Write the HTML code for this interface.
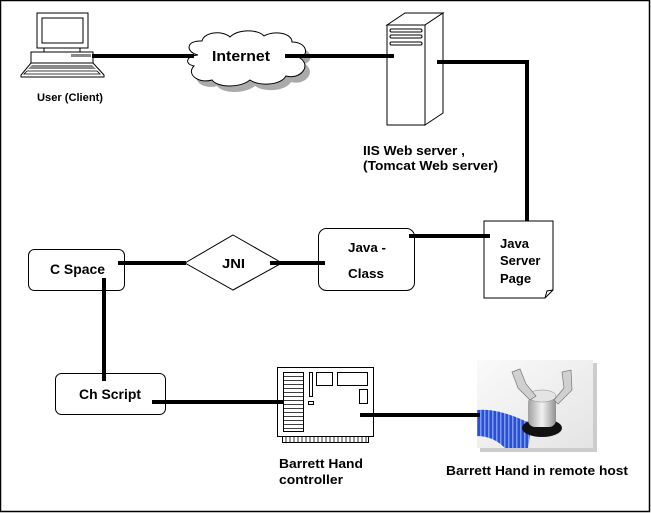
<!DOCTYPE html>
<html><head><meta charset="utf-8"><style>
html,body{margin:0;padding:0;background:#fff}
svg{display:block}
text{font-family:"Liberation Sans",Arial,sans-serif;font-weight:bold;fill:#000}
</style></head><body>
<svg width="651" height="513" viewBox="0 0 651 513" xmlns="http://www.w3.org/2000/svg">
<defs>
<linearGradient id="bg" x1="0" y1="0" x2="1" y2="1"><stop offset="0" stop-color="#fafafa"/><stop offset="1" stop-color="#e4e4e4"/></linearGradient>
<linearGradient id="metal" x1="0" y1="0" x2="1" y2="0"><stop offset="0" stop-color="#a0a0a0"/><stop offset="0.5" stop-color="#f2f2f2"/><stop offset="1" stop-color="#909090"/></linearGradient>
<pattern id="coil" width="4" height="10" patternUnits="userSpaceOnUse"><rect width="4" height="10" fill="#2a4fd0"/><rect width="1.5" height="10" fill="#7a9aff"/></pattern>
</defs>
<rect x="0.5" y="0.5" width="649" height="511" fill="#fff" stroke="#000" stroke-width="1.5"/>

<!-- Computer -->
<g stroke="#000" stroke-width="1" fill="#fff">
<rect x="37" y="13" width="51" height="35"/>
<rect x="42" y="18" width="41" height="25"/>
<rect x="44" y="48" width="36" height="5"/>
<rect x="31" y="52" width="62" height="11"/>
<rect x="71" y="54" width="20" height="3" fill="#888" stroke="none"/>
<path d="M31 63 L93 63 L104 75 L104 77 L21 77 L21 75 Z"/>
<path d="M32 65 L92 65 L96 69 L28 69 Z" fill="#888" stroke="none"/>
<path d="M27 71 L97 71 L100 74 L24 74 Z" fill="#fff" stroke="#000" stroke-width="0.8"/>
</g>
<text x="37" y="101" font-size="11" textLength="66" lengthAdjust="spacingAndGlyphs">User (Client)</text>

<!-- Cloud -->
<path d="M198 55 C185 52 186 40 202 41 C204 32 222 30 230 37 C238 29 258 29 264 36 C274 30 292 33 292 42 C306 42 310 54 300 58 C312 66 300 80 286 76 C280 86 258 86 250 80 C240 88 218 88 212 80 C198 84 186 74 194 66 C184 64 186 56 198 55 Z" fill="#aaa" transform="translate(5,6)"/>
<path d="M198 55 C185 52 186 40 202 41 C204 32 222 30 230 37 C238 29 258 29 264 36 C274 30 292 33 292 42 C306 42 310 54 300 58 C312 66 300 80 286 76 C280 86 258 86 250 80 C240 88 218 88 212 80 C198 84 186 74 194 66 C184 64 186 56 198 55 Z" fill="#fff" stroke="#000" stroke-width="1"/>
<text x="212" y="61" font-size="15" textLength="58" lengthAdjust="spacingAndGlyphs">Internet</text>

<!-- Server -->
<g stroke="#000" stroke-width="1" fill="#fff">
<path d="M387 25 L405 13 L443 13 L425 25 Z"/>
<path d="M425 25 L443 13 L443 113 L425 125 Z"/>
<rect x="387" y="25" width="38" height="100"/>
<rect x="390" y="29" width="32" height="3" rx="1.5"/>
<rect x="390" y="35" width="32" height="3" rx="1.5"/>
<rect x="390" y="42" width="32" height="3" rx="1.5"/>
</g>
<text x="363" y="155" font-size="12.5" textLength="102" lengthAdjust="spacingAndGlyphs">IIS Web server ,</text>
<text x="363" y="170" font-size="12.5" textLength="135" lengthAdjust="spacingAndGlyphs">(Tomcat Web server)</text>

<!-- JSP doc -->
<path d="M484 221 L553 221 L553 290 L545 298 L484 298 Z" fill="#fff" stroke="#000" stroke-width="1"/>
<path d="M545 298 L547 291 L553 290" fill="none" stroke="#000" stroke-width="1"/>
<text x="500" y="248" font-size="13">Java</text>
<text x="500" y="265" font-size="13">Server</text>
<text x="500" y="283" font-size="13">Page</text>

<!-- Java class -->
<rect x="318.5" y="228.5" width="96" height="62" rx="8" fill="#fff" stroke="#000" stroke-width="1"/>
<text x="348" y="252" font-size="13" textLength="38" lengthAdjust="spacingAndGlyphs">Java -</text>
<text x="348" y="278" font-size="13" textLength="36" lengthAdjust="spacingAndGlyphs">Class</text>

<!-- JNI -->
<path d="M233 235 L282 263 L233 290 L185 263 Z" fill="#fff" stroke="#000" stroke-width="1"/>
<text x="222" y="268" font-size="13" textLength="23" lengthAdjust="spacingAndGlyphs">JNI</text>

<!-- C Space -->
<rect x="28.5" y="249.5" width="96" height="41" rx="6" fill="#fff" stroke="#000" stroke-width="1"/>
<text x="50" y="274" font-size="13.5" textLength="55" lengthAdjust="spacingAndGlyphs">C Space</text>

<!-- Ch Script -->
<rect x="55.5" y="373.5" width="110" height="41" rx="6" fill="#fff" stroke="#000" stroke-width="1"/>
<text x="79" y="399" font-size="14" textLength="62" lengthAdjust="spacingAndGlyphs">Ch Script</text>

<!-- Controller -->
<g stroke="#000" stroke-width="1" fill="#fff">
<rect x="277.5" y="367.5" width="96" height="69"/>
<rect x="283.5" y="372.5" width="20" height="59"/>
<rect x="309.5" y="372.5" width="3" height="24"/>
<rect x="308.5" y="401.5" width="5" height="3"/>
<rect x="316.5" y="372.5" width="16" height="13"/>
<rect x="337.5" y="372.5" width="30" height="13"/>
<rect x="359.5" y="389.5" width="8" height="14"/>
<rect x="282.5" y="436.5" width="86" height="6"/>
</g>
<g stroke="#000" stroke-width="0.8">
<path d="M284 376.5h19M284 380.5h19M284 384.5h19M284 388.5h19M284 392.5h19M284 396.5h19M284 400.5h19M284 404.5h19M284 408.5h19M284 412.5h19M284 416.5h19M284 420.5h19M284 424.5h19M284 428.5h19"/>
<path d="M286 437v5M290 437v5M294 437v5M298 437v5M302 437v5M306 437v5M310 437v5M314 437v5M318 437v5M322 437v5M326 437v5M330 437v5M334 437v5M338 437v5M342 437v5M346 437v5M350 437v5M354 437v5M358 437v5M362 437v5M366 437v5"/>
</g>
<text x="279" y="468" font-size="12.5" textLength="84" lengthAdjust="spacingAndGlyphs">Barrett Hand</text>
<text x="279" y="484" font-size="12.5" textLength="64" lengthAdjust="spacingAndGlyphs">controller</text>

<!-- Photo -->
<rect x="480" y="363" width="117" height="89" fill="#999" opacity="0.5"/>
<rect x="477" y="360" width="116" height="88" fill="url(#bg)"/>
<path d="M477 410 C495 408 515 416 532 424 L528 448 L505 448 C497 440 488 436 477 436 Z" fill="url(#coil)"/>
<ellipse cx="542" cy="428" rx="20" ry="9" fill="#111"/>
<rect x="528" y="396" width="28" height="31" rx="7" fill="url(#metal)"/>
<ellipse cx="542" cy="396" rx="14" ry="6" fill="#e4e4e4" stroke="#888" stroke-width="0.5"/>
<path d="M530 400 L518 388 L512 372 L520 369 L526 384 L536 396 Z" fill="#d0d0d0" stroke="#777" stroke-width="0.7"/>
<path d="M554 400 L564 388 L562 372 L571 370 L572 390 L558 404 Z" fill="#d0d0d0" stroke="#777" stroke-width="0.7"/>
<text x="446" y="475" font-size="13" textLength="182" lengthAdjust="spacingAndGlyphs">Barrett Hand in remote host</text>

<!-- connectors -->
<g stroke="#000" stroke-width="4" fill="none">
<path d="M92 56 H194"/>
<path d="M285 56 H394"/>
<path d="M437 62 H527 V221"/>
<path d="M409 236 H490"/>
<path d="M118 263 H186"/>
<path d="M270 263 H325"/>
<path d="M104 278 V381"/>
<path d="M152 402 H283"/>
<path d="M360 415 H480"/>
</g>
</svg>
</body></html>
